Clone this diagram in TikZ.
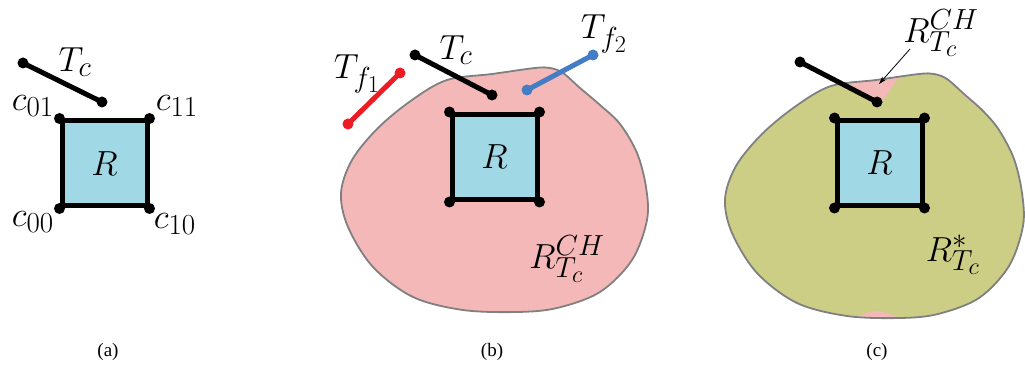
\documentclass[tikz,border=0pt]{standalone}
\usepackage{fontspec}
\newfontfamily\capfont{Liberation Serif}
\usetikzlibrary{arrows.meta}
\definecolor{sqblue}{RGB}{160,216,230}
\definecolor{chpink}{RGB}{244,184,184}
\definecolor{rstar}{RGB}{204,206,134}
\definecolor{outl}{RGB}{128,128,128}
\definecolor{tfred}{RGB}{236,28,36}
\definecolor{tfblue}{RGB}{68,125,195}
\tikzset{
  lab/.style={font=\fontsize{24.88}{30}\selectfont, inner sep=0pt, scale=1.4, transform shape},
  captext/.style={font=\capfont\fontsize{19}{22}\selectfont, inner sep=0pt},
  sqbox/.style={rectangle, draw=black, line width=5pt, fill=sqblue, minimum width=85pt, minimum height=85pt, inner sep=0pt},
  rlab/.style={font=\fontsize{24.88}{30}\selectfont, inner sep=0pt, scale=1.4, transform shape},
  seg/.style={line width=5pt},
  dotr/.style={radius=5.5pt},
  region/.style={draw=outl, line width=1.8pt},
  chB/.style={insert path={plot[smooth cycle, tension=0.55] coordinates {(447,80) (492,74) (535,68) (550,68) (563,73) (580,88) (600,105) (620,124) (637,153) (646,187) (647,220) (632,260) (600,292) (557,308) (517,312) (463,310) (413,297) (373,267) (348,227) (341,193) (352,160) (378,128) (412,100)}}},
  chC/.style={insert path={plot[smooth cycle, tension=0.55] coordinates {(831,86) (876,80) (919,74) (934,74) (947,79) (964,94) (983,111) (999,130) (1014,159) (1022,193) (1023,226) (1009,266) (979,298) (938,314) (900,318) (847,316) (797,303) (757,273) (732,233) (725,199) (736,166) (762,134) (796,106)}}},
  starC/.style={insert path={plot[smooth cycle, tension=0.5] coordinates {(820,84) (840,84) (855,91) (868,99) (880,103) (891,89) (902,76) (932,71) (953,81) (961,93) (973,104) (997,118) (1022,150) (1034,192) (1033,228) (1018,270) (986,305) (922,322) (893,315) (877,311) (860,315) (825,324) (772,307) (727,264) (714,201) (726,156) (758,117) (798,92)}}}
}
\begin{document}
\begin{tikzpicture}[x=1pt,y=-1pt]
\useasboundingbox (0,0) rectangle (1025,366);
\clip (0,0) rectangle (1025,366);

% ---------- (a) ----------
\node[sqbox] (Ra) at (104.5,163.5) {};
\node[rlab] (Rla) at (Ra.center) {$R$};
\coordinate (ta1) at (23,63);
\coordinate (ta2) at (102,102);
\draw[seg] (ta1) -- (ta2);
\foreach \p in {ta1,ta2,Ra.north west,Ra.north east,Ra.south west,Ra.south east}
  \fill (\p) circle[dotr];
\node[lab] (Tca) at (75,62) {$T_c$};
\node[lab] (c01) at (33,106) {$c_{01}$};
\node[lab] (c11) at (177,106) {$c_{11}$};
\node[lab] (c00) at (33,222) {$c_{00}$};
\node[lab] (c10) at (175,224) {$c_{10}$};
\node[captext] (capa) at (108,352) {(a)};

% ---------- (b) ----------
\path[fill=chpink, region, chB];
\node[sqbox] (Rb) at (494.5,157) {};
\node[rlab] (Rlb) at (Rb.center) {$R$};
\coordinate (tb1) at (415,55);
\coordinate (tb2) at (492,95);
\coordinate (f1a) at (400,73);
\coordinate (f1b) at (348,124);
\coordinate (f2a) at (593,55);
\coordinate (f2b) at (527,90);
\draw[seg] (tb1) -- (tb2);
\draw[seg, tfred] (f1a) -- (f1b);
\draw[seg, tfblue] (f2a) -- (f2b);
\foreach \p in {tb1,tb2,Rb.north west,Rb.north east,Rb.south west,Rb.south east}
  \fill (\p) circle[dotr];
\fill[tfred] (f1a) circle[dotr] (f1b) circle[dotr];
\fill[tfblue] (f2a) circle[dotr] (f2b) circle[dotr];
\node[lab] (Tcb) at (456,50) {$T_c$};
\node[lab] (Tf1) at (357,74) {$T_{f_1}$};
\node[lab] (Tf2) at (604,34) {$T_{f_2}$};
\node[lab] (RCHb) at (567,259) {$R_{T_c}^{CH}$};
\node[captext] (capb) at (492,352) {(b)};

% ---------- (c) ----------
\path[fill=chpink, chC];
\begin{scope}
  \clip[chC];
  \path[fill=rstar, starC];
\end{scope}
\path[region, chC];
\node[sqbox] (Rc) at (879.5,163) {};
\node[rlab] (Rlc) at (Rc.center) {$R$};
\coordinate (tc1) at (800,62);
\coordinate (tc2) at (877,102);
\draw[seg] (tc1) -- (tc2);
\foreach \p in {tc1,tc2,Rc.north west,Rc.north east,Rc.south west,Rc.south east}
  \fill (\p) circle[dotr];
\node[lab] (RCHc) at (941,33) {$R_{T_c}^{CH}$};
\coordinate (arrstart) at (910,49);
\coordinate (arrend) at (879,84);
\draw[line width=0.8pt, -{Stealth[length=8pt,width=5pt]}] (arrstart) -- (arrend);
\node[lab] (Rstar) at (953,255) {$R_{T_c}^{*}$};
\node[captext] (capc) at (877,352) {(c)};
\end{tikzpicture}
\end{document}
